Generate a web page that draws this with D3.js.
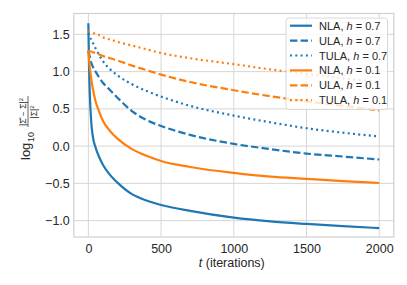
<!DOCTYPE html>
<html lang="en">
<head>
<meta charset="UTF-8">
<title>chart</title>
<style>
  body { margin: 0; background: #fff; }
  text { font-family: "Liberation Sans", Arial, sans-serif; fill: #262626; }
</style>
</head>
<body>
<script src="https://cdn.jsdelivr.net/npm/d3@7"></script>
<script>
// iterations
var iters = [0, 5, 10, 20, 30, 50, 75, 100, 150, 200, 300, 400, 500, 700, 1000, 1250, 1500, 1750, 2000];
// log10 relative error
var nla07  = [1.65, 1.05, 0.70, 0.32, 0.14, -0.02, -0.15, -0.25, -0.39, -0.49, -0.645, -0.73, -0.79, -0.87, -0.96, -1.01, -1.045, -1.075, -1.10];
var ula07  = [1.28, 1.24, 1.20, 1.12, 1.07, 1.00, 0.92, 0.85, 0.75, 0.65, 0.47, 0.35, 0.27, 0.15, 0.03, -0.04, -0.10, -0.14, -0.18];
var tula07 = [1.52, 1.50, 1.47, 1.43, 1.39, 1.31, 1.22, 1.14, 1.03, 0.95, 0.83, 0.74, 0.665, 0.54, 0.41, 0.32, 0.24, 0.18, 0.13];
var nla01  = [1.28, 1.16, 1.06, 0.90, 0.78, 0.60, 0.46, 0.34, 0.20, 0.10, -0.04, -0.13, -0.20, -0.28, -0.36, -0.41, -0.44, -0.47, -0.495];
var ula01  = [1.28, 1.28, 1.27, 1.27, 1.26, 1.25, 1.23, 1.21, 1.18, 1.15, 1.08, 1.02, 0.96, 0.86, 0.75, 0.67, 0.60, 0.54, 0.48];
var tula01 = [1.54, 1.54, 1.53, 1.53, 1.52, 1.51, 1.49, 1.46, 1.43, 1.40, 1.35, 1.30, 1.25, 1.18, 1.10, 1.03, 0.97, 0.91, 0.86];

var methods = ["NLA", "ULA", "TULA", "NLA", "ULA", "TULA"];
var steps = ["0.7", "0.7", "0.7", "0.1", "0.1", "0.1"];
var seriesValues = [nla07, ula07, tula07, nla01, ula01, tula01];
var xTicks = [0, 500, 1000, 1500, 2000];
var yTicks = [-1.0, -0.5, 0.0, 0.5, 1.0, 1.5];

var blue = "#1f77b4", orange = "#ff7f0e";
var colors = [blue, blue, blue, orange, orange, orange];
var dashes = [null, "7.4,3.2", "2,3.3", null, "7.4,3.2", "2,3.3"];

var w = 407, h = 285;
var plotL = 73.8, plotR = 393.8, plotT = 13.5, plotB = 237;

var svg = d3.select("body").append("svg")
    .attr("width", w)
    .attr("height", h);

var x = d3.scaleLinear().domain([-100, 2100]).range([plotL, plotR]);
var y = d3.scaleLinear().domain([-1.22, 1.78]).range([plotB, plotT]);

// grid
svg.append("g").selectAll("line").data(xTicks).enter().append("line")
    .attr("x1", function(d) { return x(d); })
    .attr("x2", function(d) { return x(d); })
    .attr("y1", plotT).attr("y2", plotB)
    .attr("stroke", "#d6d6d6").attr("stroke-width", 1);
svg.append("g").selectAll("line").data(yTicks).enter().append("line")
    .attr("y1", function(d) { return y(d); })
    .attr("y2", function(d) { return y(d); })
    .attr("x1", plotL).attr("x2", plotR)
    .attr("stroke", "#d6d6d6").attr("stroke-width", 1);

// frame
svg.append("rect")
    .attr("x", plotL).attr("y", plotT)
    .attr("width", plotR - plotL).attr("height", plotB - plotT)
    .attr("fill", "none").attr("stroke", "#d0d0d0").attr("stroke-width", 1.2);

// axes (labels only, no tick marks)
var xAxis = svg.append("g")
    .attr("transform", "translate(0," + plotB + ")")
    .call(d3.axisBottom(x).tickValues(xTicks).tickFormat(d3.format("d")).tickSize(0).tickPadding(7.5));
var yAxis = svg.append("g")
    .attr("transform", "translate(" + plotL + ",0)")
    .call(d3.axisLeft(y).tickValues(yTicks).tickFormat(d3.format(".1f")).tickSize(0).tickPadding(4));
[xAxis, yAxis].forEach(function(a) {
    a.select(".domain").remove();
    a.selectAll("text")
        .attr("font-family", "Liberation Sans, Arial, sans-serif")
        .attr("font-size", "12.5px")
        .attr("fill", "#262626");
});

// lines
svg.append("clipPath").attr("id", "clip").append("rect")
    .attr("x", plotL).attr("y", plotT).attr("width", plotR - plotL).attr("height", plotB - plotT);

var line = d3.line()
    .x(function(d, i) { return x(iters[i]); })
    .y(function(d) { return y(d); })
    .curve(d3.curveMonotoneX);

svg.append("g").attr("clip-path", "url(#clip)")
    .selectAll("path").data(seriesValues).enter().append("path")
    .attr("d", line)
    .attr("fill", "none")
    .attr("stroke", function(d, i) { return colors[i]; })
    .attr("stroke-width", 2.2)
    .attr("stroke-dasharray", function(d, i) { return dashes[i]; });

// x label
var xl = svg.append("text")
    .attr("x", x(1000) - 2).attr("y", 266.5)
    .attr("text-anchor", "middle")
    .attr("font-size", "12.5px");
xl.append("tspan").attr("font-style", "italic").text("t");
xl.append("tspan").text(" (iterations)");

// y label: log10 of a fraction, rotated
var yl = svg.append("g").attr("transform", "translate(30,125) rotate(-90)");
yl.append("text").attr("x", -35).attr("y", 0).attr("font-size", "13px").text("log");
yl.append("text").attr("x", -17).attr("y", 3.5).attr("font-size", "9px").text("10");
var num = yl.append("text").attr("x", 13).attr("y", -4.5).attr("text-anchor", "middle").attr("font-size", "8.5px");
num.append("tspan").text("|\u03A3\u0302 \u2212 \u03A3|");
num.append("tspan").attr("dy", -3).attr("font-size", "6px").text("2");
yl.append("line").attr("x1", -2).attr("x2", 29).attr("y1", -2).attr("y2", -2)
    .attr("stroke", "#262626").attr("stroke-width", 0.7);
var den = yl.append("text").attr("x", 13).attr("y", 6.5).attr("text-anchor", "middle").attr("font-size", "8.5px");
den.append("tspan").text("|\u03A3|");
den.append("tspan").attr("dy", -3).attr("font-size", "6px").text("2");

// legend
var lg = svg.append("g");
lg.append("rect")
    .attr("x", 286).attr("y", 18).attr("width", 101.5).attr("height", 91.5)
    .attr("rx", 3)
    .attr("fill", "#fff").attr("fill-opacity", 0.8)
    .attr("stroke", "#d8d8d8").attr("stroke-width", 1);
var rows = lg.selectAll("g.row").data(methods).enter().append("g")
    .attr("transform", function(d, i) { return "translate(0," + (25.7 + i * 14.9) + ")"; });
rows.append("line")
    .attr("x1", 290).attr("x2", 312).attr("y1", 0).attr("y2", 0)
    .attr("stroke", function(d, i) { return colors[i]; })
    .attr("stroke-width", 2.2)
    .attr("stroke-dasharray", function(d, i) { return dashes[i]; });
var lt = rows.append("text")
    .attr("x", 319).attr("y", 4)
    .attr("font-size", "11px");
lt.append("tspan").text(function(d) { return d + ", "; });
lt.append("tspan").attr("font-style", "italic").text("h");
lt.append("tspan").text(function(d, i) { return " = " + steps[i]; });
</script>
</body>
</html>
